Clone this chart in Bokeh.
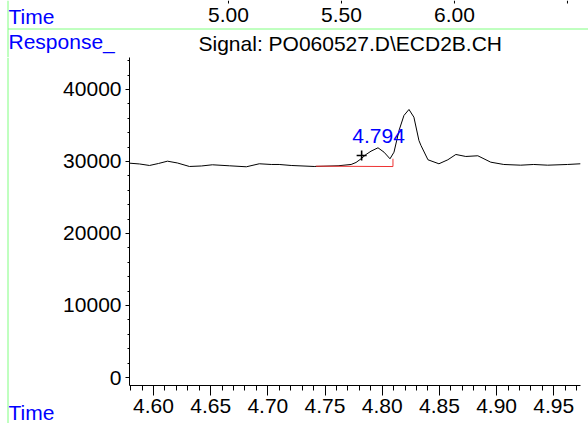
from bokeh.plotting import figure
from bokeh.layouts import column, row
from bokeh.models import (LinearAxis, Range1d, SingleIntervalTicker,
                          NumeralTickFormatter, Label)
from bokeh.core.properties import value
from bokeh.embed import file_html
from bokeh.resources import INLINE

# ---- data ----
t_vals = [4.5791, 4.5878, 4.5965, 4.6044, 4.6122, 4.6209, 4.6314, 4.6419, 4.6515,
          4.6663, 4.6812, 4.6925, 4.7030, 4.7099, 4.7204, 4.7405, 4.7614, 4.7728,
          4.7771, 4.7815, 4.7859, 4.7902, 4.7963, 4.8016, 4.8068, 4.8103, 4.8147,
          4.8190, 4.8234, 4.8277, 4.8321, 4.8339, 4.8400, 4.8496, 4.8574, 4.8644,
          4.8731, 4.8836, 4.8949, 4.9063, 4.9211, 4.9325, 4.9447, 4.9621, 4.9735]
resp_vals = [29766, 29655, 29447, 29725, 30044, 29794, 29308, 29377, 29544,
             29405, 29266, 29683, 29586, 29586, 29447, 29308, 29405, 29586,
             29864, 30377, 30975, 31433, 31905, 31294, 30377, 31294, 34308,
             36392, 37225, 36156, 32919, 32225, 30239, 29683, 30239, 30975,
             30697, 30794, 29905, 29586, 29488, 29586, 29488, 29586, 29683]

base_t = [4.742, 4.8094, 4.8094]
base_v = [29350, 29300, 30380]

mark_t = [4.782]
mark_v = [30840]

peak_label = "4.794"
peak_label_t = 4.7968
peak_label_v = 33600

top_ticks = [5.0, 5.5, 6.0]
top_labels = ["5.00", "5.50", "6.00"]
top_stub_ticks = [5.0, 5.5, 6.0, 6.5]

signal_text = "Signal: PO060527.D\\ECD2B.CH"
y_title = "Response_"
x_title = "Time"

FONT = "Liberation Sans"
FS = "21px"
BLUE = "#0000ff"
GREEN = "#80ff80"


def blank(fig):
    fig.outline_line_color = None
    fig.background_fill_color = "white"
    fig.border_fill_color = "white"
    fig.frame_align = False
    for g in fig.xgrid + fig.ygrid:
        g.visible = False


# ---------- header strip ----------
H = figure(width=588, height=57, output_backend="svg", toolbar_location=None,
           title=None, x_range=Range1d(3.9912, 6.5930), y_range=Range1d(57, 0),
           x_axis_type=None, y_axis_type=None, min_border=0)
blank(H)
H.extra_x_ranges = {"px": Range1d(0, 588)}

H.segment(x0=top_stub_ticks, y0=0, x1=top_stub_ticks, y1=3, line_color="black",
          line_width=1)
H.text(x=top_ticks, y=14, text=top_labels, text_align="center",
       text_baseline="alphabetic", text_color="black",
       text_font=value(FONT), text_font_size=value(FS))
H.segment(x0=7.5, y0=0, x1=7.5, y1=57, line_color=GREEN, line_width=1,
          x_range_name="px")
H.segment(x0=7.5, y0=28.5, x1=588, y1=28.5, line_color=GREEN, line_width=1,
          x_range_name="px")
H.text(x=[8, 8], y=[16, 41], text=[x_title, y_title], text_align="left",
       text_baseline="alphabetic", text_color=BLUE,
       text_font=value(FONT), text_font_size=value(FS), x_range_name="px")
H.text(x=[198], y=[43], text=[signal_text], text_align="left",
       text_baseline="alphabetic", text_color="black",
       text_font=value(FONT), text_font_size=value(FS), x_range_name="px")

# ---------- left strip ----------
L = figure(width=60, height=366, output_backend="svg", toolbar_location=None,
           title=None, x_range=Range1d(0, 60), y_range=Range1d(366, 0),
           x_axis_type=None, y_axis_type=None, min_border=0)
blank(L)
L.segment(x0=7.5, y0=0, x1=7.5, y1=366, line_color=GREEN, line_width=1)
L.text(x=[8], y=[355], text=[x_title], text_align="left",
       text_baseline="alphabetic", text_color=BLUE,
       text_font=value(FONT), text_font_size=value(FS))

# ---------- main chromatogram ----------
M = figure(width=528, height=366, output_backend="svg", toolbar_location=None,
           title=None, x_range=Range1d(4.579, 4.9734), y_range=Range1d(-1111, 44444),
           x_axis_type=None, y_axis_type=None,
           min_border_left=68, min_border_right=8, min_border_top=0,
           min_border_bottom=38)
blank(M)


def style_axis(ax):
    ax.axis_line_color = "black"
    ax.axis_line_width = 1
    ax.major_tick_line_color = "black"
    ax.minor_tick_line_color = "black"
    ax.major_tick_in = 0
    ax.minor_tick_in = 0
    ax.major_label_text_font = FONT
    ax.major_label_text_font_size = FS
    ax.major_label_text_color = "black"


xax = LinearAxis(ticker=SingleIntervalTicker(interval=0.05, num_minor_ticks=5),
                 formatter=NumeralTickFormatter(format="0.00"))
style_axis(xax)
xax.major_tick_out = 10
xax.minor_tick_out = 5
xax.major_label_standoff = 3
M.add_layout(xax, "below")

yax = LinearAxis(ticker=SingleIntervalTicker(interval=10000, num_minor_ticks=5),
                 formatter=NumeralTickFormatter(format="0"))
style_axis(yax)
yax.major_tick_out = 4
yax.minor_tick_out = 2
yax.major_label_standoff = 4
M.add_layout(yax, "left")

M.line(t_vals, resp_vals, line_color="black", line_width=1)
M.line(base_t, base_v, line_color="#ee3333", line_width=1)
M.scatter(mark_t, mark_v, marker="cross", size=10, line_color="black", line_width=1.6)
M.add_layout(Label(x=peak_label_t, y=peak_label_v, text=peak_label, text_align="center",
                   text_baseline="alphabetic", text_color=BLUE, text_font=FONT,
                   text_font_size=FS))

layout = column(H, row(L, M))
open("out.html", "w").write(file_html(layout, INLINE))
